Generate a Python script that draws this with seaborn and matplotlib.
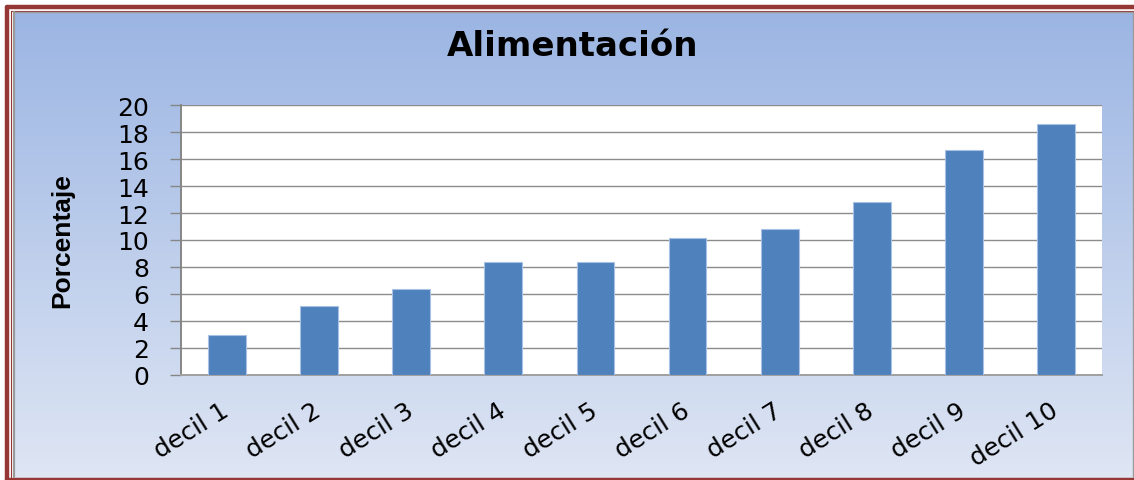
import numpy as np
import matplotlib
matplotlib.use("Agg")
import matplotlib.pyplot as plt
import seaborn as sns
import pandas as pd
from matplotlib.lines import Line2D

categories = ["decil 1", "decil 2", "decil 3", "decil 4", "decil 5",
              "decil 6", "decil 7", "decil 8", "decil 9", "decil 10"]
values = [2.95, 5.13, 6.39, 8.38, 8.38, 10.16, 10.81, 12.84, 16.65, 18.64]
yticks = [0, 2, 4, 6, 8, 10, 12, 14, 16, 18, 20]
title = "Alimentación"
ylabel = "Porcentaje"

W, H = 1134, 481
sns.set_theme(style="white")
plt.rcParams['font.family'] = ['DejaVu Sans']

fig = plt.figure(figsize=(W / 100, H / 100), dpi=100)
fig.patch.set_facecolor("white")

# background layer in pixel coordinates
bg = fig.add_axes([0, 0, 1, 1], zorder=-5)
bg.set_xlim(0, W)
bg.set_ylim(H, 0)
bg.axis("off")
top_c = np.array([155, 181, 227]) / 255
bot_c = np.array([223, 230, 244]) / 255
t = np.linspace(0, 1, 256)[:, None, None]
grad = top_c * (1 - t) + bot_c * t
grad = np.repeat(grad, 2, axis=1)
bg.imshow(grad, extent=[15, W, H, 13], aspect="auto", interpolation="bilinear", zorder=0)
red = "#953735"
# outer thick red frame
bg.add_line(Line2D([7, W + 5], [8, 8], color=red, lw=3.2, zorder=2))
bg.add_line(Line2D([7, 7], [8, H + 5], color=red, lw=3.2, zorder=2))
bg.add_line(Line2D([7, W + 5], [H - 0.5, H - 0.5], color=red, lw=3.2, zorder=2))
# thin inner red line
bg.add_line(Line2D([11, W + 5], [11.5, 11.5], color=red, lw=0.8, zorder=2))
bg.add_line(Line2D([11, 11], [11.5, H - 3], color=red, lw=0.8, zorder=2))
# grey inner line
bg.add_line(Line2D([14, W - 1.5], [13, 13], color="#9a9a9a", lw=1.0, zorder=2))
bg.add_line(Line2D([14, 14], [13, H - 3], color="#9a9a9a", lw=1.6, zorder=2))
bg.add_line(Line2D([W - 1.5, W - 1.5], [13, H - 3], color="#9a9a9a", lw=1.0, zorder=2))

# plot area
left, right, top, bottom = 181, 1102, 106.3, 375.7
ax = fig.add_axes([left / W, 1 - bottom / H, (right - left) / W, (bottom - top) / H])
ax.set_facecolor("white")

df = pd.DataFrame({"decil": categories, "pct": values})
sns.barplot(data=df, x="decil", y="pct", color="#4F81BD", saturation=1,
            width=0.41, edgecolor="#a9c1e3", linewidth=0.8, ax=ax, zorder=3)

ax.set_ylim(0, 20)
ax.set_yticks(yticks)
ax.set_yticklabels([str(v) for v in yticks])
ax.yaxis.grid(True, color="#8c8c8c", linewidth=1.0)
ax.set_axisbelow(True)
ax.xaxis.grid(False)
for s in ["top", "right"]:
    ax.spines[s].set_visible(False)
ax.spines["left"].set_color("#868686")
ax.spines["left"].set_linewidth(1.4)
ax.spines["bottom"].set_color("#a0a0a0")
ax.spines["bottom"].set_linewidth(1.4)
ax.tick_params(axis="y", which="major", left=True, length=8, width=1.0,
               color="#868686", labelsize=18, pad=15, labelcolor="black")
ax.tick_params(axis="x", which="major", bottom=False, length=0,
               labelsize=18, pad=24, labelcolor="black")
plt.setp(ax.get_xticklabels(), rotation=32, ha="right", va="center",
         rotation_mode="anchor")
ax.set_xlabel("")
ax.set_ylabel("")

fig.text(573 / W, 1 - 46 / H, title, ha="center", va="center",
         fontsize=24.5, fontweight="bold", color="black")
fig.text(62 / W, 1 - 241 / H, ylabel, ha="center", va="center",
         rotation=90, fontsize=19, fontweight="bold", color="black",
         family=["Liberation Sans", "DejaVu Sans"])

fig.savefig("out.png", dpi=100, facecolor=fig.get_facecolor())
